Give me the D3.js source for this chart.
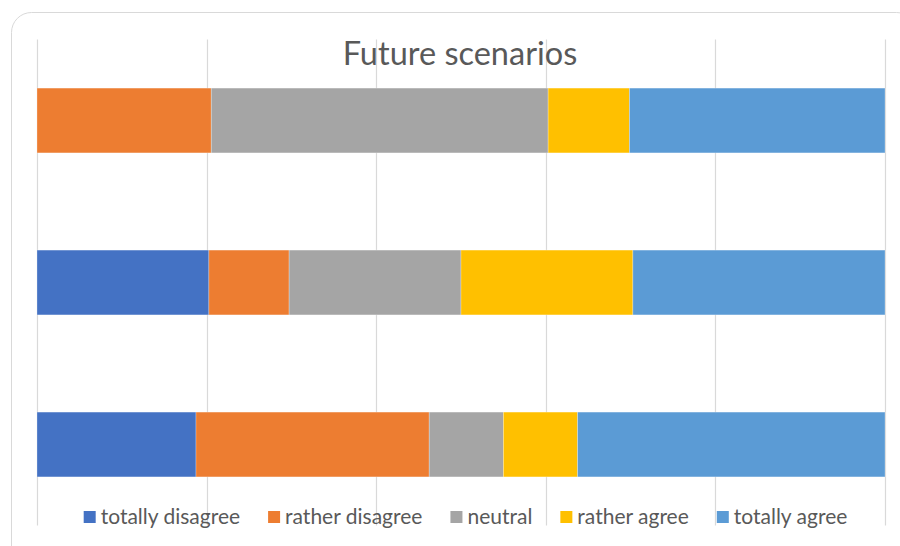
<!DOCTYPE html>
<html lang="en">
<head>
  <meta charset="UTF-8">
  <title>Future scenarios</title>
  <style>
    body {
      margin: 0;
      background: #fff;
    }
    svg {
      display: block;
      font-family: Lato, "Open Sans", sans-serif;
    }
  </style>
</head>
<body>
  <script src="https://d3js.org/d3.v7.min.js"></script>
  <script>
    // answer options, in stacking order
    const answers = ['totally disagree', 'rather disagree', 'neutral', 'rather agree', 'totally agree'];
    const colors = ['#4472C4', '#ED7D31', '#A5A5A5', '#FFC000', '#5B9BD5'];

    // scenarios, top to bottom (no labels shown in the chart)
    const scenarios = ['Scenario 1', 'Scenario 2', 'Scenario 3'];

    // number of respondents per answer, one array per answer
    const totallyDisagree = [0, 15, 15];
    const ratherDisagree = [15, 7, 22];
    const neutral = [29, 15, 7];
    const ratherAgree = [7, 15, 7];
    const totallyAgree = [22, 22, 29];

    const xTicks = [0, 0.2, 0.4, 0.6, 0.8, 1];

    const series = [totallyDisagree, ratherDisagree, neutral, ratherAgree, totallyAgree];
    const rows = scenarios.map((s, i) => {
      const row = { scenario: s };
      answers.forEach((a, j) => { row[a] = series[j][i]; });
      return row;
    });

    const width = 900;
    const height = 546;

    const svg = d3.select('body')
      .append('svg')
      .attr('width', width)
      .attr('height', height);

    // chart frame
    svg.append('rect')
      .attr('x', 11.5)
      .attr('y', 12.5)
      .attr('width', 905)
      .attr('height', 560)
      .attr('rx', 20)
      .attr('fill', '#fff')
      .attr('stroke', '#d9d9d9')
      .attr('stroke-width', 1);

    const x = d3.scaleLinear()
      .domain([0, 1])
      .range([37, 885]);

    const y = d3.scaleBand()
      .domain(scenarios)
      .range([39.5, 525.5])
      .paddingInner(0.6)
      .paddingOuter(0.3);

    // vertical gridlines
    svg.append('g')
      .selectAll('line')
      .data(xTicks)
      .enter().append('line')
        .attr('x1', d => Math.round(x(d)) + 0.5)
        .attr('x2', d => Math.round(x(d)) + 0.5)
        .attr('y1', y.range()[0])
        .attr('y2', y.range()[1])
        .attr('stroke', '#d9d9d9')
        .attr('stroke-width', 1.2);

    const stack = d3.stack()
      .keys(answers)
      .offset(d3.stackOffsetExpand);

    const layers = stack(rows);

    svg.append('g')
      .selectAll('g')
      .data(layers)
      .enter().append('g')
        .attr('fill', (d, i) => colors[i])
      .selectAll('rect')
      .data(d => d)
      .enter().append('rect')
        .attr('x', d => x(d[0]))
        .attr('y', d => y(d.data.scenario))
        .attr('width', d => x(d[1]) - x(d[0]))
        .attr('height', y.bandwidth())
        .attr('stroke', 'rgba(255,255,255,0.35)')
        .attr('stroke-width', 0.75);

    // title
    svg.append('text')
      .attr('x', 460)
      .attr('y', 65)
      .attr('text-anchor', 'middle')
      .attr('fill', '#595959')
      .style('font-size', '32.5px')
      .text('Future scenarios');

    // legend
    const legend = svg.append('g');
    const items = legend.selectAll('g')
      .data(answers)
      .enter().append('g');

    items.append('rect')
      .attr('width', 12)
      .attr('height', 12)
      .attr('y', 511)
      .attr('fill', (d, i) => colors[i]);

    items.append('text')
      .attr('x', 17)
      .attr('y', 517)
      .attr('dy', '0.35em')
      .attr('fill', '#595959')
      .style('font-size', '21px')
      .text(d => d);

    let pos = 0;
    const offsets = [];
    items.each(function () {
      offsets.push(pos);
      const w = d3.select(this).select('text').node().getComputedTextLength();
      pos += 17 + w + 28;
    });
    const total = pos - 28;
    const start = 465.5 - total / 2;
    items.attr('transform', (d, i) => `translate(${start + offsets[i]},0)`);
  </script>
</body>
</html>
